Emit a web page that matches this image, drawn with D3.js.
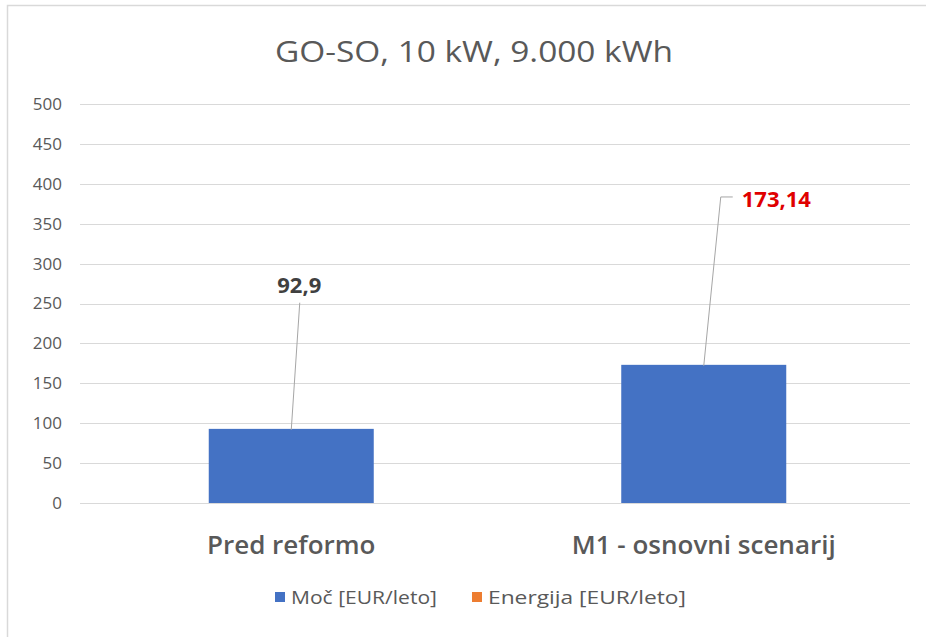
<!DOCTYPE html>
<html>
<head>
<meta charset="utf-8">
<script src="https://cdn.jsdelivr.net/npm/d3@7"></script>
<style>
  body { margin: 0; background: #fff; }
  svg { display: block; font-family: "Open Sans", "Noto Sans", sans-serif; }
</style>
</head>
<body>
<svg width="926" height="637"></svg>
<script>
var categories = ["Pred reformo", "M1 - osnovni scenarij"];
var mocValues = [92.9, 173.14];
var energijaValues = [0, 0];
var valueLabels = ["92,9", "173,14"];
var yTicks = [0, 50, 100, 150, 200, 250, 300, 350, 400, 450, 500];
var legendNames = ["Moč [EUR/leto]", "Energija [EUR/leto]"];

var svg = d3.select("svg"),
    width = +svg.attr("width"),
    height = +svg.attr("height");

var margin = {top: 104, right: 16, bottom: 134, left: 80};

// chart frame (only top and left edge visible in the picture)
svg.append("path")
    .attr("d", "M7.5,637 L7.5,5.5 L926,5.5")
    .attr("fill", "none")
    .attr("stroke", "#d9d9d9")
    .attr("stroke-width", 1.5);

var x = d3.scaleBand()
    .domain(categories)
    .range([85, width - margin.right])
    .paddingInner(0.6)
    .paddingOuter(0.3);

var y = d3.scaleLinear()
    .domain([0, 500])
    .range([height - margin.bottom, margin.top]);

// title
svg.append("text")
    .attr("x", 474)
    .attr("y", 62)
    .attr("text-anchor", "middle")
    .attr("font-size", 29)
    .attr("fill", "#595959")
    .attr("textLength", 398)
    .attr("lengthAdjust", "spacingAndGlyphs")
    .text("GO-SO, 10 kW, 9.000 kWh");

// gridlines
svg.append("g")
    .selectAll("line")
    .data(yTicks)
    .enter().append("line")
    .attr("x1", margin.left)
    .attr("x2", width - margin.right)
    .attr("y1", function(d) { return Math.round(y(d)) + 0.5; })
    .attr("y2", function(d) { return Math.round(y(d)) + 0.5; })
    .attr("stroke", "#d9d9d9")
    .attr("stroke-width", 1);

// y axis labels
var yAxis = d3.axisLeft(y).tickValues(yTicks).tickSize(0).tickPadding(0);
var ga = svg.append("g")
    .attr("transform", "translate(62,0)")
    .call(yAxis);
ga.select(".domain").remove();
ga.selectAll("text")
    .attr("font-family", "'Open Sans', 'Noto Sans', sans-serif")
    .attr("font-size", 17)
    .attr("fill", "#595959");

// bars
svg.append("g")
    .selectAll("rect")
    .data(mocValues)
    .enter().append("rect")
    .attr("x", function(d, i) { return x(categories[i]); })
    .attr("width", x.bandwidth())
    .attr("y", function(d) { return y(d); })
    .attr("height", function(d) { return y(0) - y(d); })
    .attr("fill", "#4472c4");

// data labels with leader lines
var labelPos = [
    {dx: 8, vy: 273, color: "#404040", anchor: "middle"},
    {dx: 38, vy: 381, color: "#e00000", anchor: "start"}
];

mocValues.forEach(function(v, i) {
    var cx = x(categories[i]) + x.bandwidth() / 2;
    var p = labelPos[i];
    svg.append("text")
        .attr("x", cx + p.dx)
        .attr("y", y(p.vy))
        .attr("dy", "0.35em")
        .attr("text-anchor", p.anchor)
        .attr("font-size", 22)
        .attr("font-weight", "bold")
        .attr("fill", p.color)
        .text(valueLabels[i]);
    var pts;
    if (i === 0) {
        pts = [[cx + 8.5, y(251)], [cx, y(v) + 1]];
    } else {
        pts = [[cx + 29, y(383.5)], [cx + 17, y(383.5)], [cx, y(v) + 1]];
    }
    svg.append("path")
        .attr("d", d3.line()(pts))
        .attr("fill", "none")
        .attr("stroke", "#a6a6a6")
        .attr("stroke-width", 1);
});

// category labels
svg.append("g")
    .selectAll("text")
    .data(categories)
    .enter().append("text")
    .attr("x", function(d) { return x(d) + x.bandwidth() / 2; })
    .attr("y", 554)
    .attr("text-anchor", "middle")
    .attr("font-size", 26)
    .attr("font-weight", 600)
    .attr("fill", "#595959")
    .text(function(d) { return d; });

// legend
var legendColors = ["#4472c4", "#ed7d31"];
var legendX = [275, 472];
var legendW = [146, 198];
var lg = svg.append("g");
legendNames.forEach(function(name, i) {
    lg.append("rect")
        .attr("x", legendX[i])
        .attr("y", 592)
        .attr("width", 10)
        .attr("height", 10)
        .attr("fill", legendColors[i]);
    lg.append("text")
        .attr("x", legendX[i] + 16)
        .attr("y", 604)
        .attr("font-size", 18)
        .attr("fill", "#595959")
        .attr("textLength", legendW[i])
        .attr("lengthAdjust", "spacingAndGlyphs")
        .text(name);
});
</script>
</body>
</html>
